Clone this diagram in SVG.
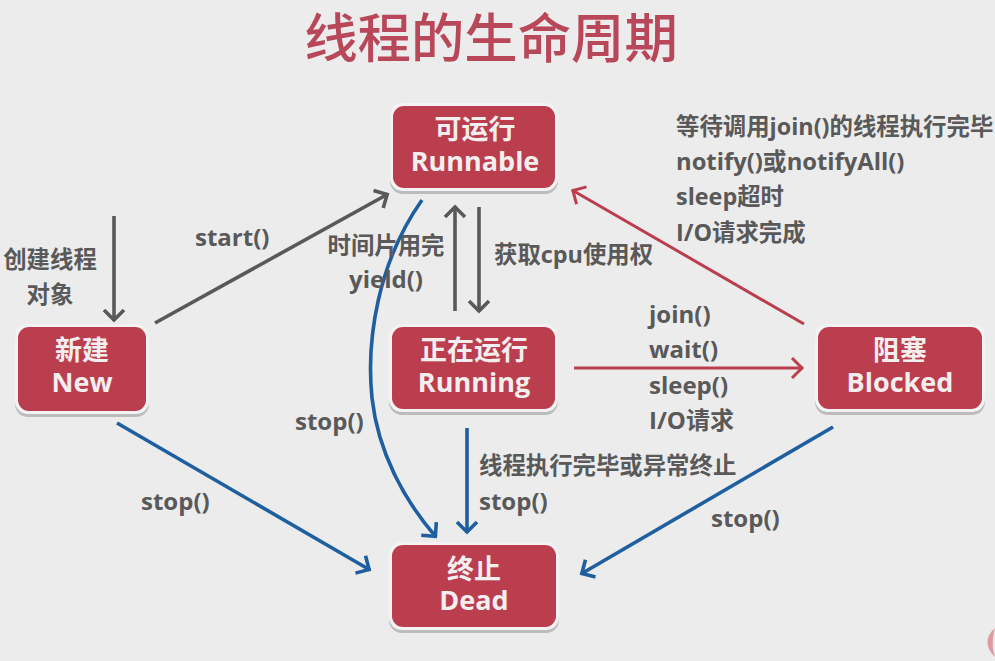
<svg xmlns="http://www.w3.org/2000/svg" width="995" height="661" viewBox="0 0 995 661">
<style>
text{font-family:"Open Sans","Noto Sans CJK SC",sans-serif;font-weight:700}
.lb{font-size:24px;fill:#595959;stroke:none}
.cj{font-size:23.4px}
.n{font-size:27px;fill:#f4eeee;text-anchor:middle}
.s{fill:#000;opacity:.2}
.h{fill:#f4f2f2}
.b{fill:#bb3e4e}
.c{fill:none;stroke-width:3.6;stroke-linecap:butt}
.g{stroke:#595959}.u{stroke:#1f5f9f}.r{stroke:#bb3e4e}
</style>
<defs>
<marker id="ag" markerUnits="userSpaceOnUse" markerWidth="26" markerHeight="26" refX="20" refY="13" orient="auto"><path d="M9 3L19 13L9 23" fill="none" stroke="#595959" stroke-width="3.6"/></marker>
<marker id="au" markerUnits="userSpaceOnUse" markerWidth="26" markerHeight="26" refX="20" refY="13" orient="auto"><path d="M9 3L19 13L9 23" fill="none" stroke="#1f5f9f" stroke-width="3.6"/></marker>
<marker id="ar" markerUnits="userSpaceOnUse" markerWidth="26" markerHeight="26" refX="20" refY="13" orient="auto"><path d="M9 3L19 13L9 23" fill="none" stroke="#bb3e4e" stroke-width="3"/></marker>
</defs>
<rect width="995" height="661" fill="#ececec"/>
<text x="491" y="58" font-size="53.4" text-anchor="middle" fill="#b9475a" style="font-weight:500">线程的生命周期</text>
<path d="M995 628C985 636 985 648 995 657C992 648 992 638 995 628Z" fill="#e29aa2"/>
<g id="connectors">
<path class="c g" d="M114 216V321" marker-end="url(#ag)"/>
<path class="c g" d="M155 323L388 194" marker-end="url(#ag)"/>
<path class="c g" d="M455 311V206" marker-end="url(#ag)"/>
<path class="c g" d="M479 207V312" marker-end="url(#ag)"/>
<path class="c u" d="M422 200C378 262 366 340 372 398C378 452 404 500 436 537" marker-end="url(#au)"/>
<path class="c u" d="M117 423L370 570" marker-end="url(#au)"/>
<path class="c u" d="M467 428V533" marker-end="url(#au)"/>
<path class="c u" d="M833 427L581 574" marker-end="url(#au)"/>
<path class="c r" style="stroke-width:3" d="M574 368H803" marker-end="url(#ar)"/>
<path class="c r" style="stroke-width:3" d="M804 324L572 190" marker-end="url(#ar)"/>
</g>
<g id="node-runnable">
<rect class="s" x="390" y="105" width="168" height="89" rx="13"/><rect class="h" x="390" y="103" width="168" height="88" rx="13"/><rect class="b" x="393" y="106" width="162" height="82" rx="11"/>
<text class="n" x="475" y="139">可运行</text><text class="n" x="475" y="171">Runnable</text>
</g>
<g id="node-new">
<rect class="s" x="15" y="326" width="134" height="91" rx="13"/><rect class="h" x="15" y="324" width="134" height="90" rx="13"/><rect class="b" x="18" y="327" width="128" height="84" rx="11"/>
<text class="n" x="82" y="360">新建</text><text class="n" x="82" y="392">New</text>
</g>
<g id="node-running">
<rect class="s" x="389" y="326" width="169" height="89" rx="13"/><rect class="h" x="389" y="324" width="169" height="88" rx="13"/><rect class="b" x="392" y="327" width="163" height="82" rx="11"/>
<text class="n" x="474" y="360">正在运行</text><text class="n" x="474" y="392">Running</text>
</g>
<g id="node-blocked">
<rect class="s" x="815" y="326" width="170" height="89" rx="13"/><rect class="h" x="815" y="324" width="170" height="88" rx="13"/><rect class="b" x="818" y="327" width="164" height="82" rx="11"/>
<text class="n" x="900" y="360">阻塞</text><text class="n" x="900" y="392">Blocked</text>
</g>
<g id="node-dead">
<rect class="s" x="389" y="544" width="170" height="89" rx="13"/><rect class="h" x="389" y="542" width="170" height="88" rx="13"/><rect class="b" x="392" y="545" width="164" height="82" rx="11"/>
<text class="n" x="474" y="579">终止</text><text class="n" x="474" y="610">Dead</text>
</g>
<g id="labels">
<text class="lb cj" x="50" y="268" text-anchor="middle">创建线程</text>
<text class="lb cj" x="50" y="303" text-anchor="middle">对象</text>
<text class="lb" x="195" y="246">start()</text>
<text class="lb cj" x="386" y="254" text-anchor="middle">时间片用完</text>
<text class="lb" x="386" y="288" text-anchor="middle">yield()</text>
<text class="lb cj" x="494" y="263">获取cpu使用权</text>
<text class="lb cj" x="676" y="135">等待调用join()的线程执行完毕</text>
<text class="lb" x="676" y="170" style="font-size:23.8px">notify()或notifyAll()</text>
<text class="lb cj" x="676" y="205">sleep超时</text>
<text class="lb cj" x="676" y="241">I/O请求完成</text>
<text class="lb" x="649" y="323">join()</text>
<text class="lb" x="649" y="358">wait()</text>
<text class="lb" x="649" y="394">sleep()</text>
<text class="lb" x="649" y="429">I/O请求</text>
<text class="lb" x="295" y="430">stop()</text>
<text class="lb" x="141" y="510">stop()</text>
<text class="lb cj" x="479" y="474">线程执行完毕或异常终止</text>
<text class="lb" x="479" y="510">stop()</text>
<text class="lb" x="711" y="527">stop()</text>
</g>
</svg>
